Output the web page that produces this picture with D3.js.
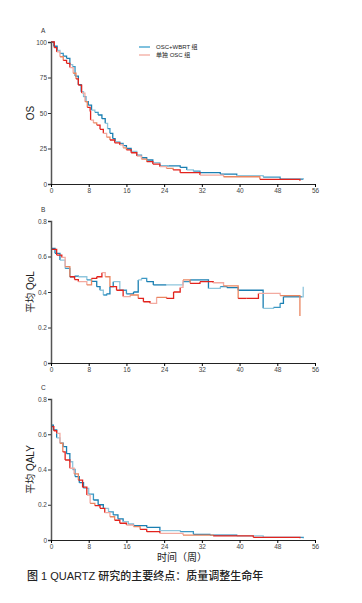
<!DOCTYPE html>
<html>
<head>
<meta charset="utf-8">
<script src="https://cdn.jsdelivr.net/npm/d3@7"></script>
<style>
  body { margin: 0; background: #fff; }
  svg text { font-family: "Liberation Sans", Arial, "Noto Sans CJK SC", sans-serif; }
</style>
</head>
<body>
<div id="chart"></div>
<script>
// x ticks (weeks)
const weekTicks = [0, 8, 16, 24, 32, 40, 48, 56];

// A: OS (%)
const osWbrtWeeks = [0, 0.6, 1.3, 1.9, 2.6, 3.3, 4, 4.6, 5.1, 5.8, 6.4, 6.9, 7.4, 7.9, 8.6, 9.3, 10, 10.8, 11.5, 12, 12.5, 13.1, 13.6, 14.6, 15.3, 16, 17, 18.2, 19.2, 20.3, 21.6, 23.1, 25, 27.4, 28.8, 30.2, 31.6, 35.9, 39.4, 45, 48.6, 53.5];
const osWbrtVals  = [100, 97, 94, 92, 90, 88.5, 84, 82.6, 76, 70, 65, 61.5, 58, 55.6, 52, 50.5, 48.6, 46, 42.7, 39, 35.7, 32, 29.8, 28.6, 27, 25, 23, 20.4, 18.5, 16.9, 15, 12.7, 12.7, 11.7, 9.9, 9, 8, 7, 5.9, 4.9, 3.5, 3.3];
const osAloneWeeks = [0, 0.7, 1.2, 1.9, 2.6, 3.3, 4, 4.7, 5.3, 5.8, 6.5, 7.2, 7.7, 8.3, 8.4, 9, 9.7, 10.4, 11.1, 11.8, 12.5, 13.5, 14.6, 15.3, 16, 17, 18.2, 19.2, 20.3, 21.6, 23.1, 24.5, 25.9, 27.4, 31.6, 36.6, 44.3, 52.8];
const osAloneVals  = [100, 96, 93, 89.6, 87, 85, 82, 78, 74, 69.7, 64, 58, 54, 51, 45, 43, 41.5, 38.5, 35.7, 33, 31, 29, 27.5, 25.5, 24, 22, 19.7, 17.5, 15.7, 14, 12.2, 11, 9.9, 8, 6.3, 5.1, 3.3, 2.3];

// B: mean QoL
const qolWbrtWeeks = [0, 0.85, 1.9, 3, 4, 5, 5.8, 7.6, 8.6, 9.7, 10.4, 11.1, 11.8, 12.5, 13.2, 14.6, 16, 17.5, 18.5, 19.2, 20.3, 21.7, 24.5, 28, 29.5, 31.6, 33.4, 35.9, 37.3, 39.7, 45, 47.2, 48.6, 49.3, 53.2, 53.5];
const qolWbrtVals  = [0.646, 0.618, 0.58, 0.533, 0.486, 0.49, 0.486, 0.468, 0.46, 0.43, 0.41, 0.383, 0.39, 0.43, 0.458, 0.41, 0.39, 0.40, 0.468, 0.477, 0.458, 0.44, 0.44, 0.458, 0.468, 0.468, 0.42, 0.43, 0.425, 0.41, 0.308, 0.313, 0.336, 0.373, 0.373, 0.43];
const qolAloneWeeks = [0, 1.2, 2.3, 3, 4, 5, 5.8, 7.6, 8.6, 9.7, 10.8, 11.5, 12.5, 13.9, 15.3, 16.8, 18.5, 19.6, 21, 22.4, 24.5, 26, 27.4, 28, 29.5, 31.6, 34.4, 36.6, 39.7, 41.5, 44, 48.6, 52.8];
const qolAloneVals  = [0.64, 0.608, 0.595, 0.543, 0.486, 0.47, 0.458, 0.44, 0.477, 0.486, 0.509, 0.486, 0.43, 0.41, 0.374, 0.383, 0.364, 0.345, 0.336, 0.37, 0.364, 0.40, 0.426, 0.468, 0.449, 0.458, 0.452, 0.434, 0.364, 0.364, 0.392, 0.38, 0.265];

// C: mean QALY
const qalyWbrtWeeks = [0, 0.5, 1.2, 1.9, 2.6, 3.3, 4, 4.6, 5.1, 6, 6.9, 8, 9, 10, 11.1, 12.2, 13.2, 14.2, 15.3, 16.4, 17.5, 20.3, 23.1, 27.4, 30.2, 33.7, 39.4, 45, 53.5];
const qalyWbrtVals  = [0.652, 0.624, 0.58, 0.549, 0.53, 0.49, 0.444, 0.4, 0.36, 0.325, 0.293, 0.26, 0.227, 0.2, 0.18, 0.16, 0.142, 0.12, 0.104, 0.09, 0.081, 0.072, 0.053, 0.047, 0.032, 0.028, 0.023, 0.015, 0.01];
const qalyAloneWeeks = [0, 0.6, 1.2, 1.9, 2.5, 3, 4, 4.9, 5.8, 6.7, 7.6, 8.3, 9.3, 10.4, 11.4, 12.5, 13.5, 14.6, 16, 17.5, 18.9, 20.3, 23.1, 28, 34.4, 42.9, 52.8];
const qalyAloneVals  = [0.643, 0.62, 0.605, 0.549, 0.5, 0.454, 0.407, 0.375, 0.34, 0.3, 0.255, 0.208, 0.195, 0.18, 0.155, 0.132, 0.112, 0.095, 0.085, 0.076, 0.06, 0.047, 0.038, 0.028, 0.023, 0.015, 0.01];

const groupNames = ["OSC+WBRT 组", "单独 OSC 组"];
const bluePalette = ["#1a7fb2", "#1a7fb2", "#8fc6dd", "#3a97c4"];
const redPalette = ["#e2231d", "#e2231d", "#f3aaa0", "#ea8660"];

const W = 362, H = 603;
const svg = d3.select("#chart").append("svg").attr("width", W).attr("height", H);

const x0 = 51, x1 = 315;

function zip(xs, ys) { return xs.map((d, i) => [d, ys[i]]); }

function drawPanel(cfg) {
    const g = svg.append("g");
    const x = d3.scaleLinear().domain([0, 56]).range([x0, x1]);
    const y = d3.scaleLinear().domain(cfg.yDomain).range([cfg.yBottom, cfg.yTop]);

    // steps, each step drawn in its own shade
    const drawSteps = (pts, palette) => {
        for (let i = 0; i < pts.length - 1; i++) {
            const a = pts[i], b = pts[i + 1];
            const p = d3.path();
            p.moveTo(x(a[0]), y(a[1]));
            p.lineTo(x(b[0]), y(a[1]));
            p.lineTo(x(b[0]), y(b[1]));
            g.append("path")
                .attr("d", p.toString())
                .attr("fill", "none")
                .attr("stroke", palette[i % palette.length])
                .attr("stroke-width", 1.3);
        }
    };
    drawSteps(cfg.blue, bluePalette);
    drawSteps(cfg.red, redPalette);

    const yAxis = d3.axisLeft(y).tickValues(cfg.yTicks).tickSize(3).tickFormat(cfg.fmt);
    const ya = g.append("g").attr("transform", `translate(${x0},0)`).call(yAxis);
    ya.select(".domain").attr("stroke", "#555").attr("stroke-width", 1.5);
    ya.selectAll(".tick line").attr("stroke", "#333");
    ya.selectAll("text").attr("font-size", 6.5).attr("fill", "#444").attr("x", -4);

    const xAxis = d3.axisBottom(x).tickValues(weekTicks).tickSize(3);
    const xa = g.append("g").attr("transform", `translate(0,${cfg.yBottom})`).call(xAxis);
    xa.select(".domain").attr("stroke", "#222").attr("stroke-width", 1);
    xa.selectAll("text").attr("font-size", 6.5).attr("fill", "#444").attr("dy", "0.45em");

    g.append("text").attr("x", 41).attr("y", cfg.yTop - 9)
        .attr("font-size", 6.5).attr("fill", "#333").text(cfg.letter);

    g.append("text")
        .attr("transform", `translate(34,${(cfg.yTop + cfg.yBottom) / 2}) rotate(-90)`)
        .attr("text-anchor", "middle")
        .attr("font-size", 10).attr("fill", "#222")
        .text(cfg.title);
}

drawPanel({
    letter: "A", title: "OS", yDomain: [0, 100], yTop: 42, yBottom: 184,
    yTicks: [0, 25, 50, 75, 100], fmt: d3.format("d"),
    blue: zip(osWbrtWeeks, osWbrtVals), red: zip(osAloneWeeks, osAloneVals)
});
drawPanel({
    letter: "B", title: "平均 QoL", yDomain: [0, 0.8], yTop: 221, yBottom: 363,
    yTicks: [0, 0.2, 0.4, 0.6, 0.8], fmt: d => d === 0 ? "0" : d3.format(".1f")(d),
    blue: zip(qolWbrtWeeks, qolWbrtVals), red: zip(qolAloneWeeks, qolAloneVals)
});
drawPanel({
    letter: "C", title: "平均 QALY", yDomain: [0, 0.8], yTop: 399, yBottom: 540,
    yTicks: [0, 0.2, 0.4, 0.6, 0.8], fmt: d => d === 0 ? "0" : d3.format(".1f")(d),
    blue: zip(qalyWbrtWeeks, qalyWbrtVals), red: zip(qalyAloneWeeks, qalyAloneVals)
});

// legend
const legend = svg.append("g");
[["#3aa0cc", 47], ["#f3aaa0", 55]].forEach((d, i) => {
    legend.append("line").attr("x1", 139).attr("x2", 150).attr("y1", d[1]).attr("y2", d[1])
        .attr("stroke", d[0]).attr("stroke-width", 1.3);
    legend.append("text").attr("x", 156).attr("y", d[1] + 2.2)
        .attr("font-size", 6).attr("fill", "#222").text(groupNames[i]);
});

svg.append("text").attr("x", 182).attr("y", 561).attr("text-anchor", "middle")
    .attr("font-size", 10).attr("fill", "#222").text("时间（周）");

svg.append("text").attr("x", 27).attr("y", 580)
    .attr("font-size", 11).attr("font-weight", 500).attr("fill", "#222")
    .text("图 1 QUARTZ 研究的主要终点：质量调整生命年");
</script>
</body>
</html>
